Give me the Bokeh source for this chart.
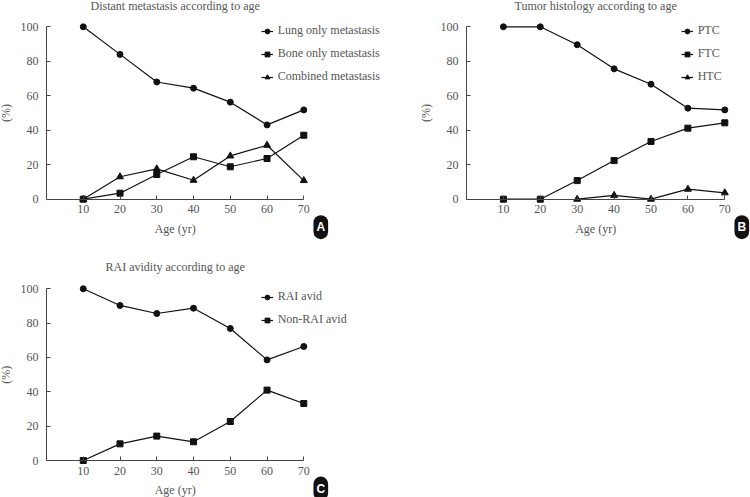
import math
from bokeh.plotting import figure
from bokeh.models import Range1d, FixedTicker, Legend, LegendItem, Label
from bokeh.layouts import row, column
from bokeh.embed import file_html
from bokeh.resources import INLINE

# ---- data ----
ages = [10, 20, 30, 40, 50, 60, 70]
lung_only = [100, 84, 68, 64.4, 56.3, 43.1, 51.8]
bone_only = [0, 3.5, 14.3, 24.6, 18.8, 23.6, 37.1]
combined = [0, 13.0, 17.6, 11.0, 25.1, 31.3, 10.8]

ptc = [100, 100, 89.6, 75.6, 66.7, 52.8, 51.8]
ftc = [0, 0, 10.8, 22.4, 33.5, 41.2, 44.3]
htc_ages = [30, 40, 50, 60, 70]
htc = [0, 2.2, 0, 5.8, 3.7]

rai_avid = [100, 90.3, 85.6, 88.7, 76.9, 58.6, 66.4]
non_rai_avid = [0, 9.7, 14.2, 10.9, 22.7, 41.0, 33.2]

y_ticks = [0, 20, 40, 60, 80, 100]
x_label = "Age (yr)"
y_label = "(%)"

FONT = "Liberation Serif"
TEXT = "#555555"
AXIS = "#444444"
LINE = "#111111"


def make_panel(W, H, ax_left, ax_right, ax_top, ax_bottom, title, series,
               leg_left, leg_top, badge):
    """ax_* : pixel positions (inside this canvas) of x=0, x=70, y=100, y=0."""
    xs_per = (ax_right - ax_left) / 70.0
    ys_per = (ax_bottom - ax_top) / 100.0
    x0 = -ax_left / xs_per
    x1 = (W - ax_left) / xs_per
    y1 = 100 + ax_top / ys_per
    y0 = -(H - ax_bottom) / ys_per

    p = figure(width=W, height=H, x_range=Range1d(x0, x1), y_range=Range1d(y0, y1),
               output_backend="svg", toolbar_location=None,
               min_border_left=0, min_border_right=0,
               min_border_top=0, min_border_bottom=0)
    p.outline_line_color = None
    p.grid.visible = False
    p.background_fill_color = "white"
    p.border_fill_color = "white"

    xa = p.xaxis[0]
    xa.fixed_location = 0
    xa.bounds = (0, 70)
    xa.ticker = FixedTicker(ticks=ages)
    xa.major_tick_in = 4
    xa.major_tick_out = 0
    xa.minor_tick_line_color = None
    xa.major_label_standoff = 6

    ya = p.yaxis[0]
    ya.fixed_location = 0
    ya.bounds = (0, 100)
    ya.ticker = FixedTicker(ticks=y_ticks)
    ya.major_tick_in = 4
    ya.major_tick_out = 0
    ya.minor_tick_line_color = None
    ya.major_label_standoff = 8

    for ax in (xa, ya):
        ax.axis_line_color = AXIS
        ax.major_tick_line_color = AXIS
        ax.axis_line_width = 1
        ax.major_label_text_font = FONT
        ax.major_label_text_font_size = "12px"
        ax.major_label_text_color = TEXT

    items = []
    for name, xs, ys, marker, size in series:
        lr = p.line(xs, ys, line_color=LINE, line_width=1.2)
        sr = p.scatter(xs, ys, marker=marker, size=size, fill_color=LINE, line_color=LINE)
        items.append(LegendItem(label=name, renderers=[lr, sr]))

    n = len(items)
    leg_h = n * 16 + (n - 1) * 7
    leg = Legend(items=items, location=(leg_left, H - leg_top - leg_h),
                 glyph_width=12, glyph_height=16,
                 label_height=16, spacing=7, padding=0, margin=0,
                 border_line_color=None, background_fill_alpha=0,
                 label_standoff=5, label_text_font=FONT,
                 label_text_font_size="12px", label_text_color=TEXT)
    p.add_layout(leg)

    mid_x = (ax_left + ax_right) / 2
    mid_y = (ax_top + ax_bottom) / 2

    def lab(px, py, text, **kw):
        opts = dict(text_align="center", text_baseline="middle", text_font=FONT,
                    text_font_size="12px", text_color=TEXT)
        opts.update(kw)
        p.add_layout(Label(x=px, y=H - py, x_units="screen", y_units="screen",
                           text=text, **opts))

    lab(mid_x, title[1], title[0])
    lab(ax_left - 41, mid_y, y_label, angle=math.pi / 2)
    lab(mid_x, ax_bottom + 29.3, x_label)
    lab(ax_right + 17, ax_bottom + 28, badge, text_font="Liberation Sans",
        text_font_style="bold", text_font_size="12px", text_color="white",
        background_fill_color="#111111", border_radius=10, padding=(3, 5))
    return p


pA = make_panel(385, 240, 46, 303.3, 26.3, 198.7,
                ("Distant metastasis according to age", 5.5),
                [("Lung only metastasis", ages, lung_only, "circle", 6),
                 ("Bone only metastasis", ages, bone_only, "square", 6),
                 ("Combined metastasis", ages, combined, "triangle", 7)],
                260.7, 22.5, "A")

pB = make_panel(365, 240, 81, 339.3, 26.3, 198.7,
                ("Tumor histology according to age", 5.5),
                [("PTC", ages, ptc, "circle", 6),
                 ("FTC", ages, ftc, "square", 6),
                 ("HTC", htc_ages, htc, "triangle", 7)],
                295.7, 22.5, "B")

pC = make_panel(385, 257, 46, 303.3, 48.3, 220,
                ("RAI avidity according to age", 26.7),
                [("RAI avid", ages, rai_avid, "circle", 6),
                 ("Non-RAI avid", ages, non_rai_avid, "square", 6)],
                260.7, 48.7, "C")

layout = column(row(pA, pB), pC)

open("out.html", "w").write(file_html(layout, INLINE))
